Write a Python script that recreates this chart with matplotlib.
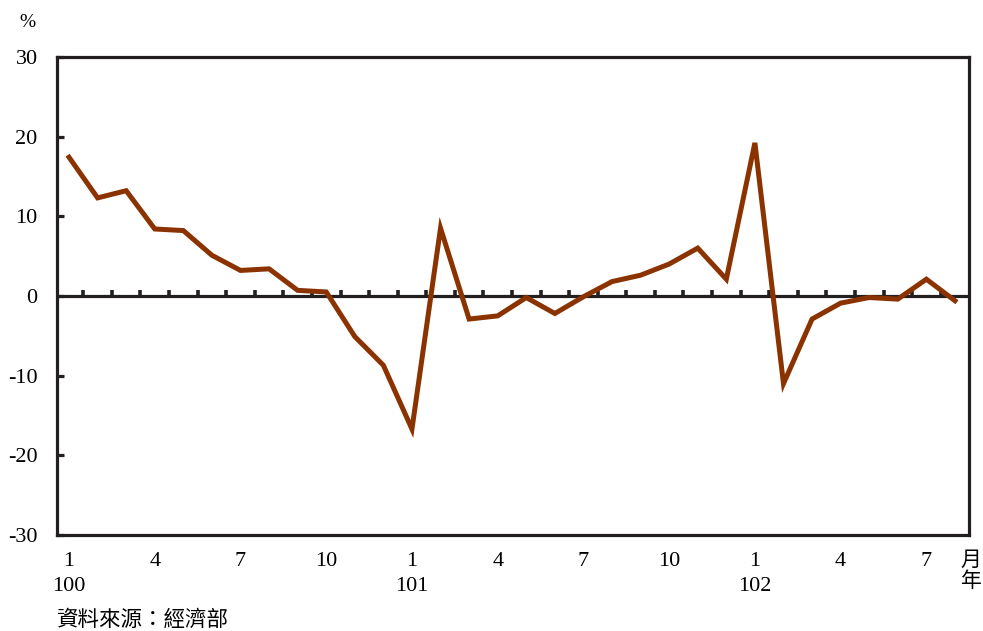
import numpy as np
import matplotlib.pyplot as plt
import matplotlib.transforms as mtransforms

plt.rcParams['font.family'] = ['Liberation Serif', 'Noto Sans CJK TC']
plt.rcParams['axes.unicode_minus'] = False

# monthly growth rate (%), 100/1 - 102/8
years = [100] * 12 + [101] * 12 + [102] * 8
months = list(range(1, 13)) + list(range(1, 13)) + list(range(1, 9))
growth = [17.4, 12.3, 13.2, 8.4, 8.2, 5.1, 3.2, 3.4, 0.7, 0.5, -5.1, -8.7,
          -16.7, 8.5, -2.9, -2.5, -0.2, -2.2, -0.1, 1.8, 2.6, 4.0, 6.0, 2.1,
          19.2, -11.0, -2.9, -0.9, -0.2, -0.4, 2.1, -0.6]
yticks = [-30, -20, -10, 0, 10, 20, 30]

line_color = '#8B3300'
axis_color = '#231F20'

fig = plt.figure(figsize=(9.83, 6.31), dpi=100)
ax = fig.add_axes([0.058, 0.152, 0.928, 0.758])

x = np.arange(len(growth))
ax.plot(x, growth, color=line_color, lw=3.6, solid_joinstyle='miter', zorder=3)

ax.set_xlim(-0.42, len(growth) - 0.5)
ax.set_ylim(-30, 30)

# zero line with small ticks between months
ax.axhline(0, color=axis_color, lw=2.3, zorder=2)
ax.vlines(x[:-1] + 0.5, 0, 0.8, color=axis_color, lw=2.6, zorder=2)

for s in ax.spines.values():
    s.set_color(axis_color)
    s.set_linewidth(2.3)

ax.set_xticks([])
ax.set_yticks(yticks)
ax.set_yticklabels([str(v) for v in yticks], fontsize=16)
ax.tick_params(axis='y', direction='in', length=5, width=2.3, color=axis_color,
               pad=14)

trans = mtransforms.blended_transform_factory(ax.transData, ax.transAxes)
for i, (yr, m) in enumerate(zip(years, months)):
    if m in (1, 4, 7, 10):
        ax.text(i, -0.055, str(m), transform=trans, ha='center', va='center',
                fontsize=16)
    if m == 1:
        ax.text(i, -0.108, str(yr), transform=trans, ha='center', va='center',
                fontsize=16)

fig.text(0.988, 0.112, '月', ha='center', va='center', fontsize=15,
         family='Noto Sans CJK TC')
fig.text(0.988, 0.080, '年', ha='center', va='center', fontsize=15,
         family='Noto Sans CJK TC')
fig.text(0.028, 0.965, '%', ha='center', va='center', fontsize=14)
fig.text(0.058, 0.018, '資料來源：經濟部', ha='left', va='center', fontsize=15.5,
         family='Noto Sans CJK TC')

fig.savefig('out.png', dpi=100)
